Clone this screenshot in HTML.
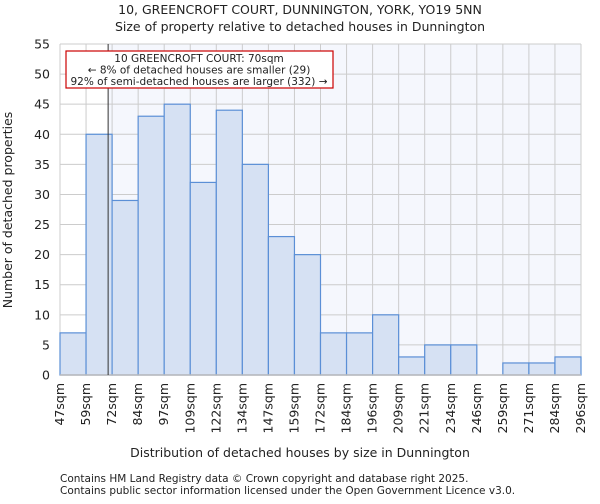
<!DOCTYPE html>
<html><head><meta charset="utf-8"><style>
body{margin:0;background:#fff;font-family:"DejaVu Sans","Liberation Sans",sans-serif;}
svg text{font-family:"DejaVu Sans","Liberation Sans",sans-serif;fill:#222;}
</style></head><body>
<svg id="chart" width="600" height="500">
<text x="300" y="14" text-anchor="middle" font-size="12.5">10, GREENCROFT COURT, DUNNINGTON, YORK, YO19 5NN</text>
<text x="300" y="31" text-anchor="middle" font-size="12.5">Size of property relative to detached houses in Dunnington</text>
<g id="plot"></g>
<text x="300" y="457" text-anchor="middle" font-size="12.5">Distribution of detached houses by size in Dunnington</text>
<text transform="translate(12,210) rotate(-90)" text-anchor="middle" font-size="12.5">Number of detached properties</text>
<text x="60" y="482" font-size="10.5" fill="#444">Contains HM Land Registry data © Crown copyright and database right 2025.</text>
<text x="60" y="494" font-size="10.5" fill="#444">Contains public sector information licensed under the Open Government Licence v3.0.</text>
</svg>
<script>
const categories=["47sqm","59sqm","72sqm","84sqm","97sqm","109sqm","122sqm","134sqm","147sqm","159sqm","172sqm","184sqm","196sqm","209sqm","221sqm","234sqm","246sqm","259sqm","271sqm","284sqm","296sqm"];
const counts=[7,40,29,43,45,32,44,35,23,20,7,7,10,3,5,5,0,2,2,3];
const yTicks=[0,5,10,15,20,25,30,35,40,45,50,55];
const edgeStart=47, edgeEnd=296, propertySize=70;
const X0=60,X1=581,Y0=375,Y1=44,YMAX=55;
const NS="http://www.w3.org/2000/svg";
const g=document.getElementById('plot');
const xb=i=>X0+i*(X1-X0)/counts.length;
const xv=v=>X0+(v-edgeStart)/(edgeEnd-edgeStart)*(X1-X0);
const y=v=>Y0-v/YMAX*(Y0-Y1);
function mk(t,a){const e=document.createElementNS(NS,t);for(const k in a)e.setAttribute(k,a[k]);g.appendChild(e);return e;}
const lx=xv(propertySize);
let e=mk('rect',{x:lx,y:Y1,width:X1-lx,height:Y0-Y1,fill:'#f5f7fd'});


yTicks.forEach(t=>{const l=mk('line',{x1:X0,x2:X1,y1:y(t),y2:y(t),stroke:'#ccc','stroke-width':1});


const tx=mk('text',{x:X0-10,y:y(t)+4.5,'text-anchor':'end','font-size':12.5});tx.textContent=t;

});
categories.forEach((c,i)=>{const l=mk('line',{x1:xb(i),x2:xb(i),y1:Y1,y2:Y0,stroke:'#ccc','stroke-width':1});


const tx=mk('text',{'text-anchor':'end','font-size':12.5,transform:`translate(${xb(i)+4},${Y0+8}) rotate(-90)`});tx.textContent=c;

});
counts.forEach((v,i)=>{if(v<=0)return;const r=mk('rect',{x:xb(i),y:y(v),width:xb(i+1)-xb(i),height:Y0-y(v),fill:'#d6e1f3',stroke:'#5b8fd6','stroke-width':1.2});

});
e=mk('line',{x1:X0,x2:X1,y1:Y0,y2:Y0,stroke:'#bbb','stroke-width':1.5});


e=mk('line',{x1:lx,x2:lx,y1:Y1,y2:Y0,stroke:'#333','stroke-width':1});


e=mk('rect',{x:66,y:51,width:267,height:37,fill:'#fff',stroke:'#c00','stroke-width':1.2});


["10 GREENCROFT COURT: 70sqm","← 8% of detached houses are smaller (29)","92% of semi-detached houses are larger (332) →"].forEach((s,k)=>{const t=mk('text',{x:199,y:62+k*11.5,'text-anchor':'middle','font-size':10.5});t.textContent=s;

});
</script>
</body></html>
